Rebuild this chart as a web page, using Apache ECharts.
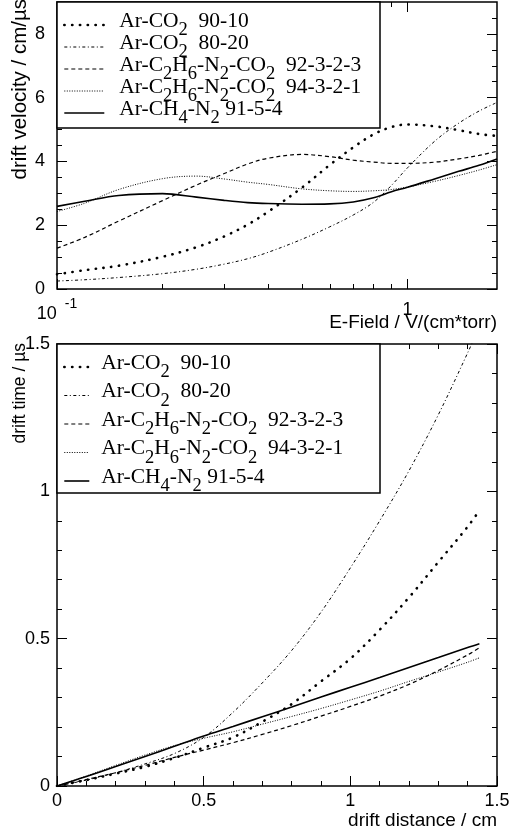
<!DOCTYPE html>
<html>
<head>
<meta charset="utf-8">
<script src="https://cdn.jsdelivr.net/npm/echarts@6/dist/echarts.min.js"></script>
<style>
html, body { margin: 0; padding: 0; background: #fff; }
#chart { width: 513px; height: 832px; }
</style>
</head>
<body>
<div id="chart"></div>
<script>
// series names (same five gas mixtures in both panels)
var names = ['Ar-CO2  90-10', 'Ar-CO2  80-20', 'Ar-C2H6-N2-CO2  92-3-2-3', 'Ar-C2H6-N2-CO2  94-3-2-1', 'Ar-CH4-N2 91-5-4'];

// top panel: drift velocity (cm/us) vs E-field (V/(cm*torr))
var efield = [0.1, 0.12, 0.15, 0.2, 0.25, 0.3, 0.35, 0.4, 0.5, 0.6, 0.7, 0.8, 0.9, 1.0, 1.2, 1.4, 1.6, 1.8];
var vArCO2_9010 = [0.46, 0.59, 0.73, 1.01, 1.31, 1.65, 2.02, 2.42, 3.18, 3.89, 4.44, 4.85, 5.08, 5.16, 5.1, 4.98, 4.86, 4.8];
var vArCO2_8020 = [0.25, 0.29, 0.36, 0.48, 0.62, 0.78, 0.95, 1.15, 1.56, 1.95, 2.32, 2.72, 3.25, 3.8, 4.65, 5.2, 5.58, 5.85];
var vEth_9232 = [1.28, 1.62, 2.13, 2.77, 3.26, 3.62, 3.92, 4.1, 4.22, 4.15, 4.04, 3.98, 3.94, 3.94, 3.98, 4.08, 4.19, 4.32];
var vEth_9421 = [2.43, 2.69, 3.12, 3.46, 3.54, 3.45, 3.35, 3.28, 3.14, 3.08, 3.06, 3.08, 3.12, 3.2, 3.38, 3.56, 3.73, 3.9];
var vCH4_9154 = [2.59, 2.75, 2.93, 2.99, 2.88, 2.78, 2.71, 2.68, 2.66, 2.67, 2.73, 2.86, 3.05, 3.19, 3.46, 3.69, 3.88, 4.08];

// bottom panel: drift time (us) vs drift distance (cm)
var distance = [0, 0.1, 0.2, 0.3, 0.4, 0.5, 0.6, 0.7, 0.8, 0.9, 1.0, 1.1, 1.2, 1.3, 1.4, 1.44];
var tArCO2_9010 = [0, 0.02, 0.042, 0.065, 0.095, 0.13, 0.165, 0.218, 0.278, 0.355, 0.432, 0.53, 0.64, 0.76, 0.88, 0.935];
var tArCO2_8020 = [0, 0.02, 0.045, 0.075, 0.11, 0.165, 0.25, 0.35, 0.46, 0.59, 0.74, 0.9, 1.07, 1.26, 1.47, 1.56];
var tEth_9232 = [0, 0.022, 0.045, 0.07, 0.097, 0.122, 0.147, 0.175, 0.205, 0.237, 0.27, 0.305, 0.345, 0.392, 0.445, 0.469];
var tEth_9421 = [0, 0.034, 0.07, 0.105, 0.137, 0.162, 0.184, 0.21, 0.236, 0.263, 0.292, 0.322, 0.355, 0.387, 0.42, 0.435];
var tCH4_9154 = [0, 0.032, 0.066, 0.1, 0.135, 0.17, 0.202, 0.235, 0.268, 0.302, 0.335, 0.368, 0.402, 0.436, 0.47, 0.483];

// tick labels / positions
var velTicks = [0, 2, 4, 6, 8];
var velMinor = [0.5, 1, 1.5, 2.5, 3, 3.5, 4.5, 5, 5.5, 6.5, 7, 7.5, 8.5];
var eMajor = [0.1, 1];
var eMinor = [0.2, 0.3, 0.4, 0.5, 0.6, 0.7, 0.8, 0.9];

var velocities = [vArCO2_9010, vArCO2_8020, vEth_9232, vEth_9421, vCH4_9154];
var times = [tArCO2_9010, tArCO2_8020, tEth_9232, tEth_9421, tCH4_9154];

// line looks, ROOT style
var looks = [
  { width: 2.6, type: [0.3, 7.5], cap: 'round' },
  { width: 1, type: [3, 2.5, 1, 2.5] },
  { width: 1.2, type: [4, 3] },
  { width: 1, type: [1, 1.5] },
  { width: 1.6, type: 'solid' }
];

var chartDom = document.getElementById('chart');
var myChart = echarts.init(chartDom, null, { renderer: 'canvas' });

var lg = function (v) { return Math.log10(v); };
var sansFont = 'Liberation Sans';
var serifFont = 'Liberation Serif';

function tickAxis(extra) {
  var base = {
    type: 'value',
    axisLine: { show: false, onZero: false },
    splitLine: { show: false },
    axisLabel: { show: false },
    axisTick: { show: true, inside: true, length: 5, lineStyle: { color: '#000', width: 1 } }
  };
  return Object.assign(base, extra);
}

// "Ar-CO2" -> rich text with the digits after letters as subscripts
function subscripts(name) {
  var out = '', buf = '';
  for (var i = 0; i < name.length; i++) {
    var ch = name.charAt(i);
    if (/\d/.test(ch) && i > 0 && /[A-Za-z]/.test(name.charAt(i - 1))) {
      if (buf) out += '{m|' + buf + '}';
      out += '{s|' + ch + '}';
      buf = '';
    } else {
      buf += ch;
    }
  }
  if (buf) out += '{m|' + buf + '}';
  return out;
}

function legendOpt(top, itemWidth, gap, padLeft) {
  return {
    show: true,
    orient: 'vertical',
    left: 63,
    top: top,
    padding: 0,
    itemGap: gap,
    itemWidth: itemWidth,
    itemHeight: 10,
    selectedMode: false,
    z: 10,
    data: names,
    formatter: subscripts,
    lineStyle: { width: 'inherit' },
    itemStyle: { color: 'rgba(0,0,0,0)', borderWidth: 0, opacity: 0 },
    textStyle: {
      fontFamily: serifFont, fontSize: 21.5, color: '#000',
      padding: [0, 0, 0, padLeft],
      rich: {
        m: { fontFamily: serifFont, fontSize: 21.5, color: '#000', lineHeight: 21.5, verticalAlign: 'top' },
        s: { fontFamily: serifFont, fontSize: 18.5, color: '#000', lineHeight: 30, verticalAlign: 'bottom' }
      }
    }
  };
}

var series = [];
names.forEach(function (n, i) {
  series.push({
    name: n, type: 'line', xAxisIndex: 0, yAxisIndex: 0,
    symbol: 'none', smooth: 0.35, clip: true,
    lineStyle: Object.assign({ color: '#000' }, looks[i]),
    data: efield.map(function (e, k) { return [e, velocities[i][k]]; })
  });
});
names.forEach(function (n, i) {
  series.push({
    name: n, type: 'line', xAxisIndex: 5, yAxisIndex: 4,
    symbol: 'none', smooth: 0.35, clip: true,
    lineStyle: Object.assign({ color: '#000' }, looks[i]),
    data: distance.map(function (d, k) { return [d, times[i][k]]; })
  });
});

var eMin = lg(0.1), eMax = lg(1.8);

option = {
  backgroundColor: '#fff',
  animation: false,
  grid: [
    { left: 57, top: 2, width: 440, height: 287, containLabel: false, outerBoundsMode: 'none',
      show: true, borderColor: '#000', borderWidth: 1.5, backgroundColor: 'transparent' },
    { left: 57, top: 344, width: 440, height: 442, containLabel: false, outerBoundsMode: 'none',
      show: true, borderColor: '#000', borderWidth: 1.5, backgroundColor: 'transparent' }
  ],
  legend: [
    legendOpt(10, 40, -8, 10),
    legendOpt(352, 25, -1.5, 7)
  ],
  xAxis: [
    // 0: log axis used by the velocity curves
    { type: 'log', logBase: 10, gridIndex: 0, min: 0.1, max: 1.8, position: 'bottom',
      axisLine: { show: false, onZero: false }, axisTick: { show: false }, axisLabel: { show: false }, splitLine: { show: false } },
    // 1-4: log-decade ticks drawn in log10 space
    tickAxis({ gridIndex: 0, min: eMin, max: eMax, position: 'bottom',
      axisTick: { show: true, inside: true, length: 10, customValues: eMajor.map(lg), lineStyle: { color: '#000' } },
      axisLabel: { show: true, customValues: eMajor.map(lg), margin: 8, color: '#000',
        fontFamily: sansFont, fontSize: 18,
        formatter: function (v) { return v < -0.5 ? '{b|10}{p|-1}' : '{c|1}'; },
        rich: {
          b: { fontFamily: sansFont, fontSize: 18, color: '#000', lineHeight: 26, verticalAlign: 'bottom' },
          p: { fontFamily: sansFont, fontSize: 14, color: '#000', lineHeight: 12, verticalAlign: 'top', padding: [0, 0, 0, 8] },
          c: { fontFamily: sansFont, fontSize: 18, color: '#000', lineHeight: 26 }
        } } }),
    tickAxis({ gridIndex: 0, min: eMin, max: eMax, position: 'bottom',
      axisTick: { show: true, inside: true, length: 5, customValues: eMinor.map(lg), lineStyle: { color: '#000' } } }),
    tickAxis({ gridIndex: 0, min: eMin, max: eMax, position: 'top',
      axisTick: { show: true, inside: true, length: 10, customValues: eMajor.map(lg), lineStyle: { color: '#000' } } }),
    tickAxis({ gridIndex: 0, min: eMin, max: eMax, position: 'top',
      axisTick: { show: true, inside: true, length: 5, customValues: eMinor.map(lg), lineStyle: { color: '#000' } } }),
    // 5: drift distance
    { type: 'value', gridIndex: 1, min: 0, max: 1.5, interval: 0.5, position: 'bottom',
      axisLine: { show: false, onZero: false }, splitLine: { show: false },
      axisTick: { show: true, inside: true, length: 10, lineStyle: { color: '#000' } },
      minorTick: { show: true, splitNumber: 5, length: 5, lineStyle: { color: '#000' } },
      axisLabel: { color: '#000', fontFamily: sansFont, fontSize: 18, margin: 6 } },
    // 6: mirrored ticks on top
    { type: 'value', gridIndex: 1, min: 0, max: 1.5, interval: 0.5, position: 'top',
      axisLine: { show: false, onZero: false }, splitLine: { show: false }, axisLabel: { show: false },
      axisTick: { show: true, inside: true, length: 10, lineStyle: { color: '#000' } },
      minorTick: { show: true, splitNumber: 5, length: 5, lineStyle: { color: '#000' } } }
  ],
  yAxis: [
    // 0: drift velocity
    tickAxis({ gridIndex: 0, min: 0, max: 9, position: 'left',
      axisTick: { show: true, inside: true, length: 10, customValues: velTicks, lineStyle: { color: '#000' } },
      axisLabel: { show: true, customValues: velTicks, margin: 12, color: '#000', fontFamily: sansFont, fontSize: 18 } }),
    tickAxis({ gridIndex: 0, min: 0, max: 9, position: 'left',
      axisTick: { show: true, inside: true, length: 5, customValues: velMinor, lineStyle: { color: '#000' } } }),
    tickAxis({ gridIndex: 0, min: 0, max: 9, position: 'right',
      axisTick: { show: true, inside: true, length: 10, customValues: velTicks, lineStyle: { color: '#000' } } }),
    tickAxis({ gridIndex: 0, min: 0, max: 9, position: 'right',
      axisTick: { show: true, inside: true, length: 5, customValues: velMinor, lineStyle: { color: '#000' } } }),
    // 4: drift time
    { type: 'value', gridIndex: 1, min: 0, max: 1.5, interval: 0.5, position: 'left',
      axisLine: { show: false, onZero: false }, splitLine: { show: false },
      axisTick: { show: true, inside: true, length: 10, lineStyle: { color: '#000' } },
      minorTick: { show: true, splitNumber: 5, length: 5, lineStyle: { color: '#000' } },
      axisLabel: { color: '#000', fontFamily: sansFont, fontSize: 18, margin: 7 } },
    // 5: mirrored ticks on the right
    { type: 'value', gridIndex: 1, min: 0, max: 1.5, interval: 0.5, position: 'right',
      axisLine: { show: false, onZero: false }, splitLine: { show: false }, axisLabel: { show: false },
      axisTick: { show: true, inside: true, length: 10, lineStyle: { color: '#000' } },
      minorTick: { show: true, splitNumber: 5, length: 5, lineStyle: { color: '#000' } } }
  ],
  graphic: [
    // legend frames
    { type: 'rect', z: 9, shape: { x: 57, y: 2, width: 323, height: 126 },
      style: { fill: '#fff', stroke: '#000', lineWidth: 1.5 } },
    { type: 'rect', z: 9, shape: { x: 57, y: 344, width: 323, height: 149 },
      style: { fill: '#fff', stroke: '#000', lineWidth: 1.5 } },
    // axis titles
    { type: 'text', x: 497, y: 323, z: 9,
      style: { text: 'E-Field / V/(cm*torr)', align: 'right', verticalAlign: 'middle', fill: '#000', font: '19px "Liberation Sans"' } },
    { type: 'text', x: 20, y: -1, rotation: Math.PI / 2, z: 9,
      style: { text: 'drift velocity / cm/\u00b5s', align: 'right', verticalAlign: 'middle', fill: '#000', font: '20.5px "Liberation Sans"' } },
    { type: 'text', x: 497, y: 821, z: 9,
      style: { text: 'drift distance / cm', align: 'right', verticalAlign: 'middle', fill: '#000', font: '19px "Liberation Sans"' } },
    { type: 'text', x: 20, y: 343, rotation: Math.PI / 2, z: 9,
      style: { text: 'drift time / \u00b5s', align: 'right', verticalAlign: 'middle', fill: '#000', font: '17.5px "Liberation Sans"' } }
  ],
  series: series
};

option && myChart.setOption(option);
</script>
</body>
</html>
